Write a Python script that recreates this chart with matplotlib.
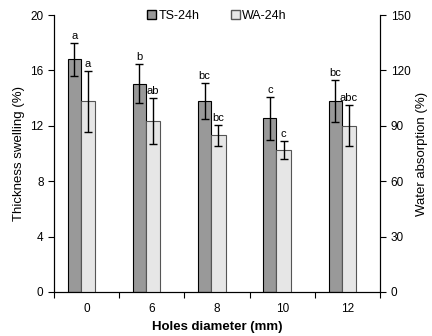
import numpy as np
import matplotlib.pyplot as plt
from matplotlib.patches import Patch

plt.rcParams['font.family'] = ['Liberation Sans', 'DejaVu Sans']

holes = ['0', '6', '8', '10', '12']
ts_mean = [16.8, 15.05, 13.8, 12.55, 13.8]
ts_err = [1.2, 1.4, 1.3, 1.55, 1.5]
wa_mean = [103.4, 92.8, 84.8, 77.0, 90.0]
wa_err = [16.5, 12.4, 5.8, 4.7, 11.1]
ts_letters = ['a', 'b', 'bc', 'c', 'bc']
wa_letters = ['a', 'ab', 'bc', 'c', 'abc']

x = np.arange(len(holes))
w = 0.2

fig = plt.figure(figsize=(4.32, 3.36), dpi=100)
ax = fig.add_axes([0.125, 0.131, 0.755, 0.824])
ax2 = ax.twinx()

ax.bar(x - 0.19, ts_mean, width=w, color='#999999', edgecolor='black', linewidth=0.8,
       yerr=ts_err, capsize=3, error_kw=dict(elinewidth=1, capthick=1, ecolor='black'), zorder=2)
ax2.bar(x + 0.02, wa_mean, width=w + 0.02, color='#e6e6e6', edgecolor='#555555', linewidth=0.8,
        yerr=wa_err, capsize=3, error_kw=dict(elinewidth=1, capthick=1, ecolor='black'), zorder=2)

for i in range(len(holes)):
    ax.annotate(ts_letters[i], (x[i] - 0.19, ts_mean[i] + ts_err[i]), xytext=(0, 1.5),
                textcoords='offset points', ha='center', va='bottom', fontsize=8)
    ax2.annotate(wa_letters[i], (x[i] + 0.02, wa_mean[i] + wa_err[i]), xytext=(0, 1.5),
                 textcoords='offset points', ha='center', va='bottom', fontsize=8)

ax.set_xlim(-0.5, len(holes) - 0.5)
ax.set_ylim(0, 20)
ax.set_yticks([0, 4, 8, 12, 16, 20])
ax2.set_ylim(0, 150)
ax2.set_yticks([0, 30, 60, 90, 120, 150])

ax.set_xticks(np.arange(-0.5, len(holes), 1))
ax.set_xticklabels([])
ax.set_xticks(x, minor=True)
ax.set_xticklabels(holes, minor=True)
ax.tick_params(axis='x', which='minor', length=0, labelsize=8.5, pad=8)
ax.tick_params(axis='x', which='major', length=4, direction='out')
ax.tick_params(axis='y', labelsize=8.5, length=4, direction='out')
ax2.tick_params(axis='y', labelsize=8.5, length=4, direction='out')

for a in (ax, ax2):
    a.spines['top'].set_visible(False)
    for s in ('left', 'right', 'bottom'):
        a.spines[s].set_linewidth(0.8)

ax.set_xlabel('Holes diameter (mm)', fontsize=9.5, fontweight='bold')
ax.set_ylabel('Thickness swelling (%)', fontsize=9.5)
ax2.set_ylabel('Water absorption (%)', fontsize=9.5)

handles = [Patch(facecolor='#999999', edgecolor='black', label='TS-24h'),
           Patch(facecolor='#e6e6e6', edgecolor='#555555', label='WA-24h')]
ax.legend(handles=handles, loc='upper center', bbox_to_anchor=(0.5, 1.06), ncol=2,
          frameon=False, fontsize=9, handlelength=0.7, handleheight=0.7,
          handletextpad=0.2, columnspacing=2.5)

fig.savefig('out.png', dpi=100)
